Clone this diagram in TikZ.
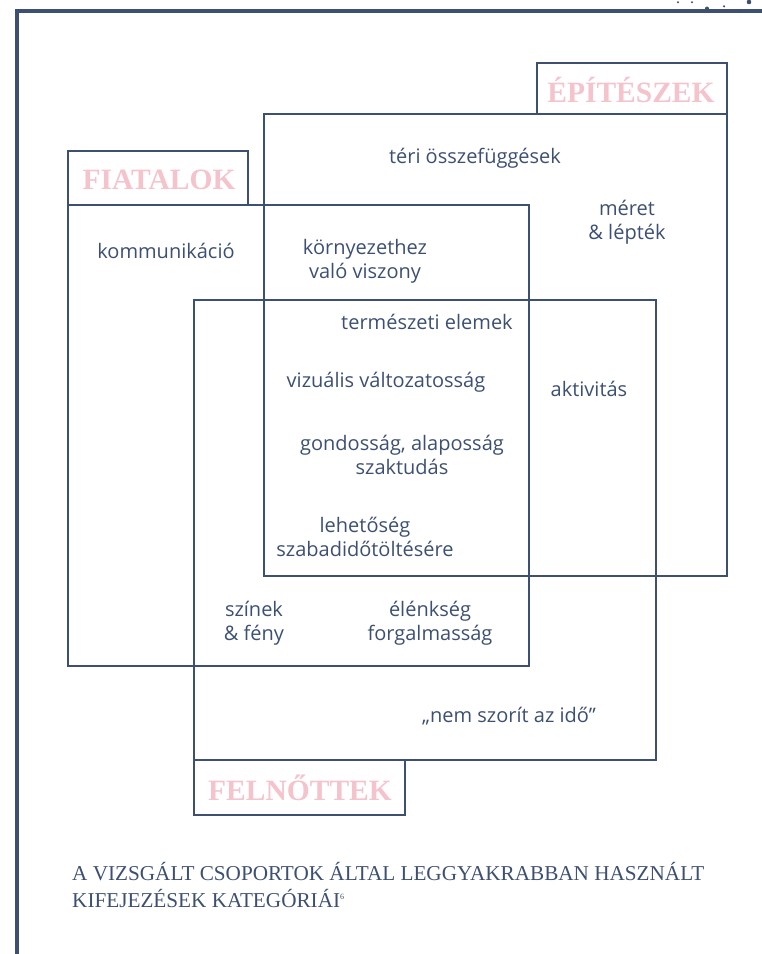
\documentclass[tikz,border=0pt]{standalone}
\usepackage{fontspec}
\setmainfont{Liberation Serif}
\newfontfamily\bodyfont{Open Sans}
\definecolor{navy}{HTML}{3D5072}
\definecolor{pinklab}{HTML}{F4C3CC}
\begin{document}
\begin{tikzpicture}[x=1pt,y=-1pt,
  box/.style={draw=navy,line width=2.8pt},
  lab/.style={text=pinklab,font=\fontsize{29.5}{32}\selectfont\bfseries,inner sep=0pt},
  txt/.style={text=navy,font=\bodyfont\fontsize{20}{24}\selectfont,align=center,inner sep=0pt},
  dot/.style={fill=navy,draw=none}]
\useasboundingbox (0,0) rectangle (762,954);
% page frame
\draw[navy,line width=3.2pt] (17,954) -- (17,11) -- (762,11);
\foreach \x/\y/\r in {678/2.3/1.1, 692/2.3/1.1, 707/8.5/2, 724/6.3/1.2, 749/2/2.3}
  \fill[dot] (\x,\y) circle (\r pt);
% big boxes
\draw[box] (264,114) rectangle (727,576);
\draw[box] (68,205) rectangle (529,666);
\draw[box] (194,300) rectangle (656,760);
% label boxes
\draw[box] (537,63) rectangle (727,114);
\draw[box] (68,151) rectangle (248,205);
\draw[box] (194,760) rectangle (405,815);
\node[lab] (epit) at (631,90) {ÉPÍTÉSZEK};
\node[lab] (fiat) at (159,180) {FIATALOK};
\node[lab] (feln) at (300,788) {FELNŐTTEK};
% texts
\node[txt] (teri) at (475,158) {téri összefüggések};
\node[txt] (meret) at (627,222) {méret\\\& lépték};
\node[txt] (komm) at (166,251) {kommunikáció};
\node[txt] (korny) at (365,261) {környezethez\\való viszony};
\node[txt] (term) at (427,322) {természeti elemek};
\node[txt] (vizu) at (386,382) {vizuális változatosság};
\node[txt] (akti) at (589,389) {aktivitás};
\node[txt] (gond) at (402,455) {gondosság, alaposság\\szaktudás};
\node[txt] (leh) at (365,537) {lehetőség\\szabadidőtöltésére};
\node[txt] (szin) at (254,623) {színek\\\& fény};
\node[txt] (elen) at (430,623) {élénkség\\forgalmasság};
\node[txt] (nem) at (509,716) {„nem szorít az idő”};
% caption
\node[text=navy,font=\fontsize{21.2}{27}\selectfont,align=left,anchor=base west,inner sep=0pt] (capt) at (72,907)
  {A VIZSGÁLT CSOPORTOK ÁLTAL LEGGYAKRABBAN HASZNÁLT\\KIFEJEZÉSEK KATEGÓRIÁI\textsuperscript{\fontsize{8}{8}\selectfont 6}};
\end{tikzpicture}
\end{document}
